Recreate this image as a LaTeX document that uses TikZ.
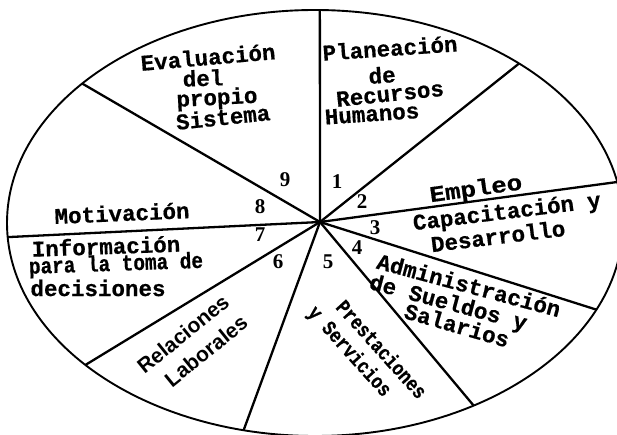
\documentclass[tikz,border=0pt]{standalone}
\usepackage{fontspec}
\setmainfont{Liberation Serif}
\newfontfamily\typew[BoldFeatures={FakeBold=0.6}]{Liberation Mono}
\newfontfamily\sansf{Liberation Sans}
\usetikzlibrary{calc}
\begin{document}
\begin{tikzpicture}[x=1pt,y=-1pt,
  rim/.style={line width=1.9pt},
  spoke/.style={line width=2.3pt},
  lbl/.style={inner sep=0pt, font=\typew\bfseries\fontsize{22.5}{24}\selectfont},
  lblsm/.style={inner sep=0pt, font=\typew\bfseries\fontsize{21}{23}\selectfont},
  lblsans/.style={inner sep=0pt, font=\sansf\bfseries\fontsize{21}{23}\selectfont},
  num/.style={inner sep=0pt, font=\bfseries\fontsize{21}{23}\selectfont}]
\useasboundingbox (0,0) rectangle (617,435);
\clip (0,0) rectangle (617,435);
\coordinate (E) at (315,223);
\coordinate (C) at (320,222);
\draw[rim] (E) ellipse [x radius=308pt, y radius=213pt];
\foreach \n/\t in {1/-89.1, 2/-48.5, 3/-11.1, 4/24.0, 5/59.0, 6/103.4, 7/138.2, 8/176.2, 9/220.9}{
  \coordinate (s\n) at ($(E)+(\t:308 and 213)$);
  \draw[spoke] (C) -- (s\n);
}
% sector 9
\node[lbl, rotate=5] (t9a) at (208,57) {Evaluación};
\node[lbl, rotate=2] (t9b) at (203,78) {del};
\node[lbl, rotate=3] (t9c) at (217,99) {propio};
\node[lbl, rotate=6] (t9d) at (223,117) {Sistema};
% sector 1
\node[lbl, rotate=4] (t1a) at (390,48) {Planeación};
\node[lbl, rotate=4] (t1b) at (382,75) {de};
\node[lbl, rotate=6] (t1c) at (390,94) {Recursos};
\node[lbl, rotate=4] (t1d) at (372,114) {Humanos};
% sector 2
\node[lbl, rotate=8, xscale=1.15] (t2) at (476,190) {Empleo};
% sector 3
\node[lbl, rotate=7] (t3a) at (507,213) {Capacitación y};
\node[lbl, rotate=7] (t3b) at (498,236) {Desarrollo};
% sector 4
\node[lbl, rotate=-15] (t4a) at (469,285) {Administración};
\node[lbl, rotate=-15] (t4b) at (448,304) {de Sueldos y};
\node[lbl, rotate=-16] (t4c) at (457,325) {Salarios};
% sector 5
\node[lblsm, rotate=-48, xscale=0.82] (t5a) at (382,349) {Prestaciones};
\node[lblsm, rotate=-48, xscale=0.82] (t5b) at (349,352) {y Servicios};
% sector 6
\node[lblsans, rotate=39] (t6a) at (183,334) {Relaciones};
\node[lblsans, rotate=39] (t6b) at (206,351) {Laborales};
% sector 7
\node[lbl, rotate=2] (t7a) at (106,246) {Información};
\node[lbl, rotate=2, xscale=0.86] (t7b) at (116,265) {para la toma de};
\node[lbl] (t7c) at (98,288) {decisiones};
% sector 8
\node[lbl, rotate=2.5] (t8) at (122,213) {Motivación};
% numbers
\node[num] (n1) at (337,182) {1};
\node[num] (n2) at (362,202) {2};
\node[num] (n3) at (375,228) {3};
\node[num] (n4) at (357,248) {4};
\node[num] (n5) at (328,262) {5};
\node[num] (n6) at (278,262) {6};
\node[num] (n7) at (260,235) {7};
\node[num] (n8) at (260,207) {8};
\node[num] (n9) at (285,180) {9};
\end{tikzpicture}
\end{document}
